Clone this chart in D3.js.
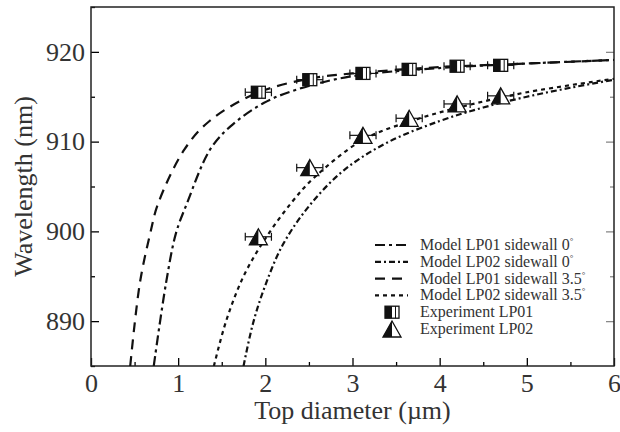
<!DOCTYPE html>
<html>
<head>
<meta charset="utf-8">
<script src="https://cdn.jsdelivr.net/npm/d3@7"></script>
<style>
  body { margin: 0; background: #fff; }
</style>
</head>
<body>
<div id="chart"></div>
<script>
// model curves: [top diameter (um), wavelength (nm)]
var lp01_0 = [[0.72,885],[0.86,894.2],[0.975,899.8],[1.1,903.1],[1.365,909.1],[1.6,911.7],[1.98,914.3],[2.36,915.8],[3.0,917.3],[4.0,918.2],[5.0,918.7],[6.0,919.1]];
var lp02_0 = [[1.75,885],[1.86,889.8],[2.0,894],[2.2,898.5],[2.5,902.8],[2.9,906.8],[3.4,909.9],[4.0,912.3],[4.5,913.8],[5.0,915],[5.5,916],[6.0,916.9]];
var lp01_35 = [[0.45,885],[0.56,894.2],[0.68,899.8],[0.77,903.1],[1.07,909.1],[1.36,912.3],[1.9,915.4],[2.5,917],[3.0,917.6],[4.0,918.3],[5.0,918.7],[6.0,919.1]];
var lp02_35 = [[1.41,885],[1.55,890],[1.75,895],[2.0,899.2],[2.3,903.2],[2.55,905.9],[3.12,910.2],[3.74,912.5],[4.3,914],[5.0,915.5],[6.0,917]];

// experiment points
var expX = [1.92, 2.51, 3.12, 3.65, 4.2, 4.7];
var expLP01 = [915.5, 916.9, 917.6, 918.05, 918.4, 918.5];
var expLP02 = [899.4, 907.1, 910.7, 912.6, 914.2, 915.1];
var expErr = 0.15;

var xTicks = [0, 1, 2, 3, 4, 5, 6];
var yTicks = [890, 900, 910, 920];

var width = 620, height = 432;
var m = {left: 91, right: 6, top: 7, bottom: 66};
var serif = "'Liberation Serif', 'Times New Roman', 'DejaVu Serif', serif";

var svg = d3.select("#chart").append("svg")
  .attr("width", width).attr("height", height);

var x = d3.scaleLinear().domain([0, 6]).range([m.left, width - m.right]);
var y = d3.scaleLinear().domain([885, 925]).range([height - m.bottom, m.top]);

svg.append("clipPath").attr("id", "clip")
  .append("rect")
  .attr("x", m.left).attr("y", m.top)
  .attr("width", width - m.left - m.right)
  .attr("height", height - m.top - m.bottom);

// ticks, pointing inward
var gx = svg.append("g").attr("transform", "translate(0," + y.range()[0] + ")");
gx.call(d3.axisBottom(x).tickValues(d3.range(0.5, 6, 1)).tickSize(-4).tickFormat(""));
gx.call(g => g.append("g").call(d3.axisBottom(x).tickValues(xTicks).tickSize(-8).tickPadding(8).tickFormat(d3.format("d"))));
var gy = svg.append("g").attr("transform", "translate(" + m.left + ",0)");
gy.call(d3.axisLeft(y).tickValues([885, 895, 905, 915, 925]).tickSize(-4).tickFormat(""));
gy.call(g => g.append("g").call(d3.axisLeft(y).tickValues(yTicks).tickSize(-8).tickPadding(6).tickFormat(d3.format("d"))));
var gr = svg.append("g").attr("transform", "translate(" + x.range()[1] + ",0)");
gr.call(d3.axisRight(y).tickValues([895, 905, 915]).tickSize(-4).tickFormat(""));
gr.call(g => g.append("g").call(d3.axisRight(y).tickValues(yTicks).tickSize(-8).tickFormat("")));
gr.selectAll("line").attr("stroke", "#888");
svg.selectAll(".domain").remove();
svg.selectAll(".tick line").attr("stroke-width", 1.3);
svg.selectAll(".tick text").style("font-size", "26px");

// frame
svg.append("rect")
  .attr("x", m.left).attr("y", m.top)
  .attr("width", width - m.left - m.right)
  .attr("height", height - m.top - m.bottom)
  .attr("fill", "none").attr("stroke", "#222").attr("stroke-width", 1.5);

// axis titles
svg.append("text")
  .attr("x", (m.left + width - m.right) / 2).attr("y", 419)
  .attr("text-anchor", "middle").style("font-size", "26px")
  .text("Top diameter (\u00b5m)");
svg.append("text")
  .attr("transform", "translate(32," + ((m.top + height - m.bottom) / 2) + ") rotate(-90)")
  .attr("text-anchor", "middle").style("font-size", "26px")
  .text("Wavelength (nm)");

var line = d3.line().x(d => x(d[0])).y(d => y(d[1])).curve(d3.curveCatmullRom);

var series = [
  {data: lp01_0, dash: "10,4,3,4", name: "Model LP01 sidewall 0"},
  {data: lp02_0, dash: "6,3,2,3", name: "Model LP02 sidewall 0"},
  {data: lp01_35, dash: "10,7", name: "Model LP01 sidewall 3.5"},
  {data: lp02_35, dash: "4,4", name: "Model LP02 sidewall 3.5"}
];

var plot = svg.append("g").attr("clip-path", "url(#clip)");
plot.selectAll("path.model")
  .data(series).enter()
  .append("path").attr("class", "model")
  .attr("d", d => line(d.data))
  .attr("fill", "none").attr("stroke", "#111")
  .attr("stroke-width", 2.2)
  .attr("stroke-dasharray", d => d.dash);

// markers
function halfSquare(g, cx, cy) {
  g.append("rect").attr("x", cx - 7).attr("y", cy - 6).attr("width", 14).attr("height", 12)
    .attr("fill", "#fff").attr("stroke", "#111").attr("stroke-width", 1.3);
  g.append("rect").attr("x", cx - 7).attr("y", cy - 6).attr("width", 7).attr("height", 12)
    .attr("fill", "#111");
  g.append("line").attr("x1", cx + 3.5).attr("x2", cx + 3.5).attr("y1", cy - 6).attr("y2", cy + 6)
    .attr("stroke", "#111").attr("stroke-width", 1);
}
function halfTriangle(g, cx, cy) {
  var h = 16, w = 18;
  g.append("path")
    .attr("d", "M" + (cx - w / 2) + "," + (cy + h / 2) + "L" + cx + "," + (cy - h / 2) + "L" + (cx + w / 2) + "," + (cy + h / 2) + "Z")
    .attr("fill", "#fff").attr("stroke", "#111").attr("stroke-width", 1.3);
  g.append("path")
    .attr("d", "M" + (cx - w / 2) + "," + (cy + h / 2) + "L" + cx + "," + (cy - h / 2) + "L" + cx + "," + (cy + h / 2) + "Z")
    .attr("fill", "#111");
}
function errBar(g, xv, yv) {
  var x0 = x(xv - expErr), x1 = x(xv + expErr), yy = y(yv);
  g.append("line").attr("x1", x0).attr("x2", x1).attr("y1", yy).attr("y2", yy).attr("stroke", "#111").attr("stroke-width", 1.2);
  g.append("line").attr("x1", x0).attr("x2", x0).attr("y1", yy - 4).attr("y2", yy + 4).attr("stroke", "#111").attr("stroke-width", 1.2);
  g.append("line").attr("x1", x1).attr("x2", x1).attr("y1", yy - 4).attr("y2", yy + 4).attr("stroke", "#111").attr("stroke-width", 1.2);
}

var marks = svg.append("g");
expX.forEach(function(xv, i) {
  errBar(marks, xv, expLP01[i]);
  halfSquare(marks, x(xv), y(expLP01[i]));
  errBar(marks, xv, expLP02[i]);
  halfTriangle(marks, x(xv), y(expLP02[i]));
});

// legend
var legend = svg.append("g");
var ly0 = 245, ldy = 16.8;
series.forEach(function(s, i) {
  var yy = ly0 + i * ldy;
  legend.append("line").attr("x1", 375).attr("x2", 408).attr("y1", yy).attr("y2", yy)
    .attr("stroke", "#111").attr("stroke-width", 2.2).attr("stroke-dasharray", s.dash);
  var t = legend.append("text").attr("x", 420).attr("y", yy + 5).style("font-size", "16px").text(s.name);
  t.append("tspan").attr("dy", -6).style("font-size", "9px").text("\u00b0");
});
halfSquare(legend, 392, ly0 + 4 * ldy);
legend.append("text").attr("x", 420).attr("y", ly0 + 4 * ldy + 5).style("font-size", "16px").text("Experiment LP01");
halfTriangle(legend, 392, ly0 + 5 * ldy);
legend.append("text").attr("x", 420).attr("y", ly0 + 5 * ldy + 5).style("font-size", "16px").text("Experiment LP02");

svg.selectAll("text").style("font-family", serif).attr("fill", "#333");
</script>
</body>
</html>
